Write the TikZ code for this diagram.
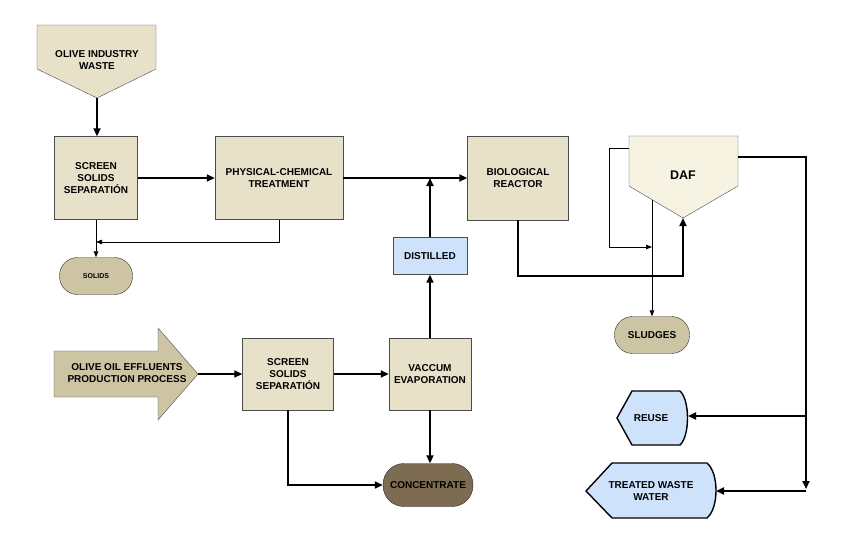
\documentclass[tikz,border=0pt]{standalone}
\usepackage{fontspec}
\setmainfont{Liberation Sans}
\usetikzlibrary{arrows.meta}

\definecolor{boxfill}{HTML}{E8E1C9}
\definecolor{tanfill}{HTML}{CDC4A3}
\definecolor{concfill}{HTML}{7D6C52}
\definecolor{bluefill}{HTML}{CFE2FB}
\definecolor{daffill}{HTML}{F6F3E3}

\newcommand{\boxfont}{\fontsize{10}{11.8}\selectfont\bfseries}

\tikzset{
    box/.style={draw=black!70, fill=boxfill, align=center, font=\boxfont, inner sep=2pt},
    pill/.style={draw=black!80, fill=tanfill, rounded corners=18pt, align=center, font=\boxfont},
    mainflow/.style={line width=1.8pt, -{Triangle[length=8pt,width=7pt]}},
    sideflow/.style={line width=0.7pt, -{Triangle[length=6pt,width=4.5pt]}},
}

\begin{document}
\begin{tikzpicture}[x=1pt,y=-1pt]
    \useasboundingbox (0,0) rectangle (848,544);

    % upper line
    \filldraw[draw=black!70, fill=boxfill] (37,25) -- (156,25) -- (156,69) -- (97,98) -- (37,69) -- cycle;
    \node[align=center, font=\boxfont] (waste) at (97,60) {OLIVE INDUSTRY\\WASTE};
    \coordinate (wastetip) at (97,98);

    \node[box, minimum width=83pt, minimum height=83pt] (scr1) at (96,178) {SCREEN\\SOLIDS\\SEPARATIÓN};
    \node[box, minimum width=128pt, minimum height=83pt] (phys) at (279,178) {PHYSICAL-CHEMICAL\\TREATMENT};
    \node[box, minimum width=101pt, minimum height=84pt] (bio) at (518,178) {BIOLOGICAL\\REACTOR};
    \node[pill, minimum width=73pt, minimum height=37pt, font=\fontsize{7}{8}\selectfont\bfseries] (solids) at (96,276) {SOLIDS};
    \node[box, fill=bluefill, minimum width=74pt, minimum height=37pt] (dist) at (430,256) {DISTILLED};
    \coordinate (solidsjoin) at (96,242);
    \coordinate (distjoin) at (430,178);

    % DAF
    \filldraw[draw=black!70, fill=daffill] (629,136) -- (738,136) -- (738,186) -- (683,218) -- (629,186) -- cycle;
    \node[font=\fontsize{12.5}{14}\selectfont\bfseries] (daf) at (683,175) {DAF};
    \coordinate (daftip) at (683,218);
    \coordinate (dafjoin) at (683,276);
    \coordinate (dafleft) at (629,148);
    \coordinate (dafloop) at (609,148);
    \coordinate (sludgejoin) at (652,247);
    \coordinate (dafout) at (652,200);
    \coordinate (dafright) at (738,157);
    \coordinate (outturn) at (806,157);
    \coordinate (outend) at (806,489);
    \node[pill, minimum width=75pt, minimum height=37pt] (sludges) at (652,335) {SLUDGES};

    % outputs
    \filldraw[line width=1.4pt, fill=bluefill] (617,418) -- (632,391) -- (680,391) .. controls (690,400) and (690,436) .. (680,445) -- (632,445) -- cycle;
    \node[font=\boxfont] (reuse) at (651,418) {REUSE};
    \coordinate (reuseR) at (688,416);
    \coordinate (reusejoin) at (806,416);

    \filldraw[line width=1.4pt, fill=bluefill] (586,491) -- (612,463) -- (707,463) .. controls (719,473) and (719,508) .. (707,518) -- (612,518) -- cycle;
    \node[align=center, font=\boxfont] (treated) at (651,491) {TREATED WASTE\\WATER};
    \coordinate (treatedR) at (716,491);
    \coordinate (treatedjoin) at (806,491);

    % lower line
    \filldraw[draw=black!70, fill=tanfill] (54,351) -- (158,351) -- (158,328) -- (198,374) -- (158,420) -- (158,397) -- (54,397) -- cycle;
    \node[align=center, font=\boxfont] (olive) at (127,373) {OLIVE OIL EFFLUENTS\\PRODUCTION PROCESS};
    \coordinate (olivetip) at (198,374);

    \node[box, minimum width=91pt, minimum height=72pt] (scr2) at (288,374) {SCREEN\\SOLIDS\\SEPARATIÓN};
    \node[box, minimum width=82pt, minimum height=72pt] (vac) at (430,374) {VACCUM\\EVAPORATION};
    \node[pill, fill=concfill, draw=black!85, rounded corners=21pt, minimum width=90pt, minimum height=43pt] (conc) at (428,485) {CONCENTRATE};

    % flows
    \draw[mainflow] (wastetip) -- (wastetip |- scr1.north);
    \draw[mainflow] (scr1) -- (phys);
    \draw[mainflow] (phys) -- (bio);
    \draw[mainflow] (dist.north) -- (distjoin);
    \draw[sideflow] (scr1.south) -- (solids.north);
    \draw[sideflow] (phys.south) |- (solidsjoin);
    \draw[mainflow] (bio.south) |- (dafjoin) -- (daftip);
    \draw[sideflow] (dafleft) -- (dafloop) |- (sludgejoin);
    \draw[sideflow] (dafout) -- (sludges.north);
    \draw[mainflow] (dafright) -- (outturn) -- (outend);
    \draw[mainflow] (reusejoin) -- (reuseR);
    \draw[mainflow] (treatedjoin) -- (treatedR);

    \draw[mainflow] (olivetip) -- (scr2.west);
    \draw[mainflow] (scr2) -- (vac);
    \draw[mainflow] (vac.north) -- (dist.south);
    \draw[mainflow] (vac.south) -- (vac.south |- conc.north);
    \draw[mainflow] (scr2.south) |- (conc.west);
\end{tikzpicture}
\end{document}
